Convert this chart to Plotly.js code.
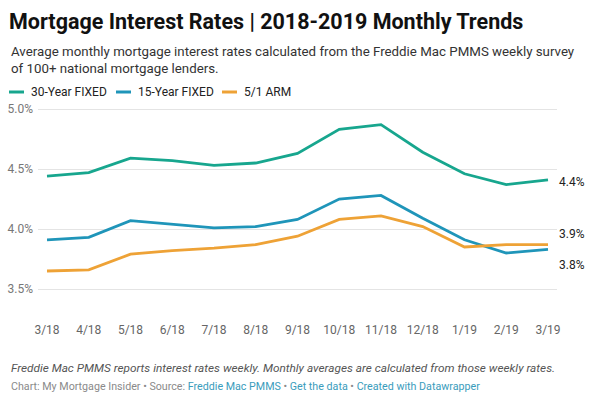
<!DOCTYPE html>
<html>
<head>
<meta charset="utf-8">
<script src="https://cdn.plot.ly/plotly-3.0.1.min.js"></script>
<style>
html,body{margin:0;padding:0;background:#fff;}
#chart{width:600px;height:399px;}
</style>
</head>
<body>
<div id="chart"></div>
<script>
// ---- Data ----
const months = ["3/18","4/18","5/18","6/18","7/18","8/18","9/18","10/18","11/18","12/18","1/19","2/19","3/19"];
const fixed30 = [4.44,4.47,4.59,4.57,4.53,4.55,4.63,4.83,4.87,4.64,4.46,4.37,4.41];
const fixed15 = [3.91,3.93,4.07,4.04,4.01,4.02,4.08,4.25,4.28,4.09,3.91,3.80,3.83];
const arm51   = [3.65,3.66,3.79,3.82,3.84,3.87,3.94,4.08,4.11,4.02,3.85,3.87,3.87];
const seriesNames = ["30-Year FIXED","15-Year FIXED","5/1 ARM"];
const yTickVals = [3.5,4.0,4.5,5.0];
const yTickText = ["3.5%","4.0%","4.5%","5.0%"];

// ---- Styling ----
const colors = ["#17a68e","#1f95b9","#eea236"];
const FONT = "Roboto, 'Noto Sans', sans-serif";
const W = 600, H = 399;
const M = {l:38, r:43, t:103, b:104};
const plotW = W - M.l - M.r, plotH = H - M.t - M.b;
const px2x = p => (p - M.l) / plotW;
const py2y = p => (H - M.b - p) / plotH;

const xIdx = months.map((_, i) => i);
const allSeries = [fixed30, fixed15, arm51];

const traces = allSeries.map((vals, k) => ({
  type: "scatter",
  mode: "lines",
  x: xIdx,
  y: vals,
  name: seriesNames[k],
  line: {color: colors[k], width: 2.8},
  hoverinfo: "skip",
  showlegend: false
}));

// custom legend
const legendItems = [
  {sx: 9, tx: 29},
  {sx: 116, tx: 136},
  {sx: 222, tx: 242}
];
const shapes = [];
const annotations = [];
legendItems.forEach((it, k) => {
  shapes.push({type:"line", xref:"paper", yref:"paper",
    x0: px2x(it.sx), x1: px2x(it.sx + 15), y0: py2y(92), y1: py2y(92),
    line:{color: colors[k], width: 3}});
  annotations.push({xref:"paper", yref:"paper", x: px2x(it.tx), y: py2y(92),
    xanchor:"left", yanchor:"middle", showarrow:false, text: seriesNames[k],
    font:{family:FONT, size:12, color:"#222"}});
});

// end labels
const last = months.length - 1;
allSeries.forEach((vals, k) => {
  annotations.push({xref:"paper", yref:"y", x: 1, y: vals[last],
    xanchor:"left", yanchor:"middle", xshift: 0,
    yshift: [ -2, -16, 11 ][k],
    showarrow:false, text: vals[last].toFixed(1) + "%",
    font:{family:FONT, size:12, color:"#222"}});
});

// subtitle
annotations.push({xref:"paper", yref:"paper", x: px2x(9), y: py2y(59.5),
  xanchor:"left", yanchor:"middle", align:"left", showarrow:false,
  text: "Average monthly mortgage interest rates calculated from the Freddie Mac PMMS weekly survey<br>of 100+ national mortgage lenders.",
  font:{family:FONT, size:13.3, color:"#333"}});

// footer
annotations.push({xref:"paper", yref:"paper", x: px2x(9), y: py2y(368),
  xanchor:"left", yanchor:"middle", align:"left", showarrow:false,
  text: "<i>Freddie Mac PMMS reports interest rates weekly. Monthly averages are calculated from those weekly rates.</i>",
  font:{family:FONT, size:11.8, color:"#555"}});
annotations.push({xref:"paper", yref:"paper", x: px2x(9), y: py2y(386),
  xanchor:"left", yanchor:"middle", align:"left", showarrow:false,
  text: "Chart: My Mortgage Insider • Source: <span style='color:#3a9cbc'>Freddie Mac PMMS</span> • <span style='color:#3a9cbc'>Get the data</span> • <span style='color:#3a9cbc'>Created with Datawrapper</span>",
  font:{family:FONT, size:10.7, color:"#8a8a8a"}});

const unit = (548 - 47) / (months.length - 1);
const pad = 9 / unit;

const layout = {
  width: W, height: H,
  margin: M,
  paper_bgcolor: "#fff",
  plot_bgcolor: "#fff",
  font: {family: FONT},
  title: {
    text: "Mortgage Interest Rates | 2018-2019 Monthly Trends",
    xref: "container", yref: "container",
    x: 9 / W, xanchor: "left",
    y: 1 - 21 / H, yanchor: "middle",
    font: {family: FONT, size: 21.5, color: "#111", weight: 700}
  },
  xaxis: {
    range: [-pad, last + pad],
    tickmode: "array",
    tickvals: xIdx,
    ticktext: months,
    showgrid: false,
    zeroline: false,
    showline: false,
    ticks: "",
    ticklabelstandoff: 26,
    tickfont: {family: FONT, size: 12, color: "#666"},
    fixedrange: true
  },
  yaxis: {
    range: [3.45, 5.05],
    tickmode: "array",
    tickvals: yTickVals,
    ticktext: yTickText,
    showgrid: true,
    gridcolor: "#e4e4e4",
    gridwidth: 1,
    zeroline: false,
    showline: false,
    ticks: "",
    ticklabelstandoff: 4,
    tickfont: {family: FONT, size: 12, color: "#777"},
    fixedrange: true
  },
  shapes: shapes,
  annotations: annotations,
  showlegend: false
};

Plotly.newPlot("chart", traces, layout, {displayModeBar: false, staticPlot: true});
</script>
</body>
</html>
